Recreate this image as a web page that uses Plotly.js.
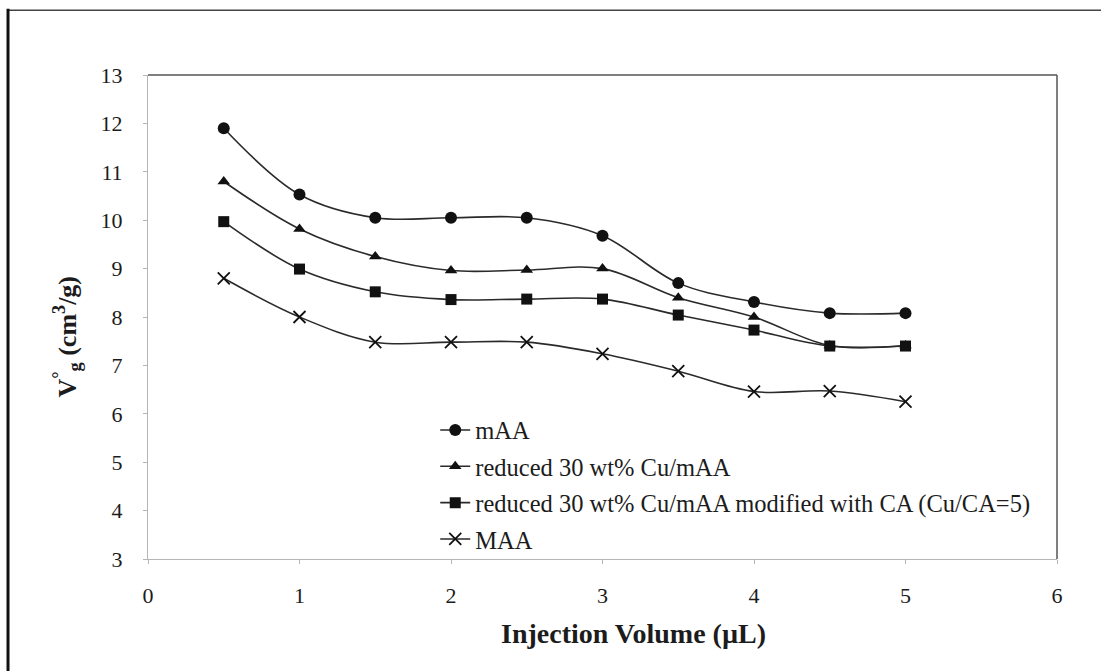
<!DOCTYPE html>
<html>
<head>
<meta charset="utf-8">
<script src="https://cdn.plot.ly/plotly-3.0.1.min.js"></script>
<style>
  html, body { margin: 0; padding: 0; background: #ffffff; }
  #chart { width: 1101px; height: 671px; }
</style>
</head>
<body>
<div id="chart"></div>
<script>
// Injection volume (µL)
const injectionVolume = [0.5, 1, 1.5, 2, 2.5, 3, 3.5, 4, 4.5, 5];

// Specific retention volume V°g (cm³/g) for each adsorbent
const mAA      = [11.9, 10.53, 10.05, 10.05, 10.05, 9.68, 8.70, 8.31, 8.08, 8.08];
const cuMAA    = [10.8, 9.82, 9.25, 8.96, 8.97, 9.00, 8.40, 8.00, 7.41, 7.41];
const cuCAmAA  = [9.97, 8.99, 8.52, 8.36, 8.37, 8.37, 8.04, 7.73, 7.40, 7.40];
const MAA      = [8.80, 8.00, 7.48, 7.48, 7.48, 7.24, 6.88, 6.46, 6.47, 6.25];

const seriesNames = [
  'mAA',
  'reduced 30 wt% Cu/mAA',
  'reduced 30 wt% Cu/mAA modified with CA (Cu/CA=5)',
  'MAA'
];

const xTicks = [0, 1, 2, 3, 4, 5, 6];
const yTicks = [3, 4, 5, 6, 7, 8, 9, 10, 11, 12, 13];

const xTitle = '<b>Injection Volume (µL)</b>';
const yTitle = '<b>V<sup>°</sup><sub>g</sub> (cm<sup>3</sup>/g)</b>';

const ink = '#1c1c1c';
const serif = '"Liberation Serif", "Times New Roman", serif';

function series(y, name, symbol, size, group) {
  return {
    x: injectionVolume,
    y: y,
    name: name,
    legendgroup: group,
    type: 'scatter',
    mode: 'lines+markers',
    line: { color: '#2a2a2a', width: 1.6, shape: 'spline', smoothing: 1 },
    marker: {
      symbol: symbol,
      size: size,
      color: '#111111',
      line: { color: '#111111', width: symbol === 'x-thin-open' ? 1.8 : 0 }
    }
  };
}

const traces = [
  series(mAA, seriesNames[0], 'circle', 12, 'a'),
  series(cuMAA, seriesNames[1], 'triangle-up', 11, 'b'),
  series(cuCAmAA, seriesNames[2], 'square', 11, 'c'),
  series(MAA, seriesNames[3], 'x-thin-open', 12, 'd')
];

const layout = {
  width: 1101,
  height: 671,
  paper_bgcolor: '#ffffff',
  plot_bgcolor: '#ffffff',
  margin: { l: 148, r: 44, t: 75, b: 112 },
  font: { family: serif, color: ink, size: 22 },
  showlegend: true,
  legend: {
    x: 0.316, y: 0.313, xanchor: 'left', yanchor: 'top',
    bgcolor: 'rgba(0,0,0,0)',
    traceorder: 'grouped',
    tracegroupgap: 1.5,
    font: { family: serif, size: 24.5, color: ink }
  },
  xaxis: {
    range: [0, 6],
    tickvals: xTicks,
    ticktext: xTicks.map(String),
    showgrid: false,
    zeroline: false,
    showline: true,
    linecolor: '#b5b5b5',
    linewidth: 1,
    ticks: 'outside',
    ticklen: 4,
    tickcolor: '#b5b5b5',
    ticklabelstandoff: 13,
    tickfont: { family: serif, size: 22, color: ink }
  },
  yaxis: {
    range: [3, 13],
    tickvals: yTicks,
    ticktext: yTicks.map(String),
    showgrid: false,
    zeroline: false,
    showline: true,
    linecolor: '#b5b5b5',
    linewidth: 1,
    ticks: 'outside',
    ticklen: 4,
    tickcolor: '#b5b5b5',
    ticklabelstandoff: 16,
    tickfont: { family: serif, size: 22, color: ink }
  },
  annotations: [
    // axis titles
    { text: xTitle, xref: 'paper', yref: 'paper', x: 0.534, y: -0.153,
      xanchor: 'center', yanchor: 'middle', showarrow: false,
      font: { family: serif, size: 28, color: ink } },
    { text: yTitle, xref: 'paper', yref: 'paper', x: -0.089, y: 0.46,
      xanchor: 'center', yanchor: 'middle', showarrow: false, textangle: -90,
      font: { family: serif, size: 26, color: ink } }
  ],
  shapes: [
    // plot-area frame, top and right edges
    { type: 'line', xref: 'paper', yref: 'paper', x0: 0, x1: 1, y0: 1, y1: 1,
      line: { color: '#555555', width: 1.5 } },
    { type: 'line', xref: 'paper', yref: 'paper', x0: 1, x1: 1, y0: 0, y1: 1,
      line: { color: '#555555', width: 1.5 } },
    // outer figure border
    { type: 'line', xref: 'paper', yref: 'paper', x0: -0.154, x1: 1.06, y0: 1.134, y1: 1.134,
      line: { color: '#444444', width: 1.5 } },
    { type: 'line', xref: 'paper', yref: 'paper', x0: -0.154, x1: -0.154, y0: 1.137, y1: -0.25,
      line: { color: '#111111', width: 3 } }
  ]
};

Plotly.newPlot('chart', traces, layout, { displayModeBar: false, staticPlot: true });
</script>
</body>
</html>
